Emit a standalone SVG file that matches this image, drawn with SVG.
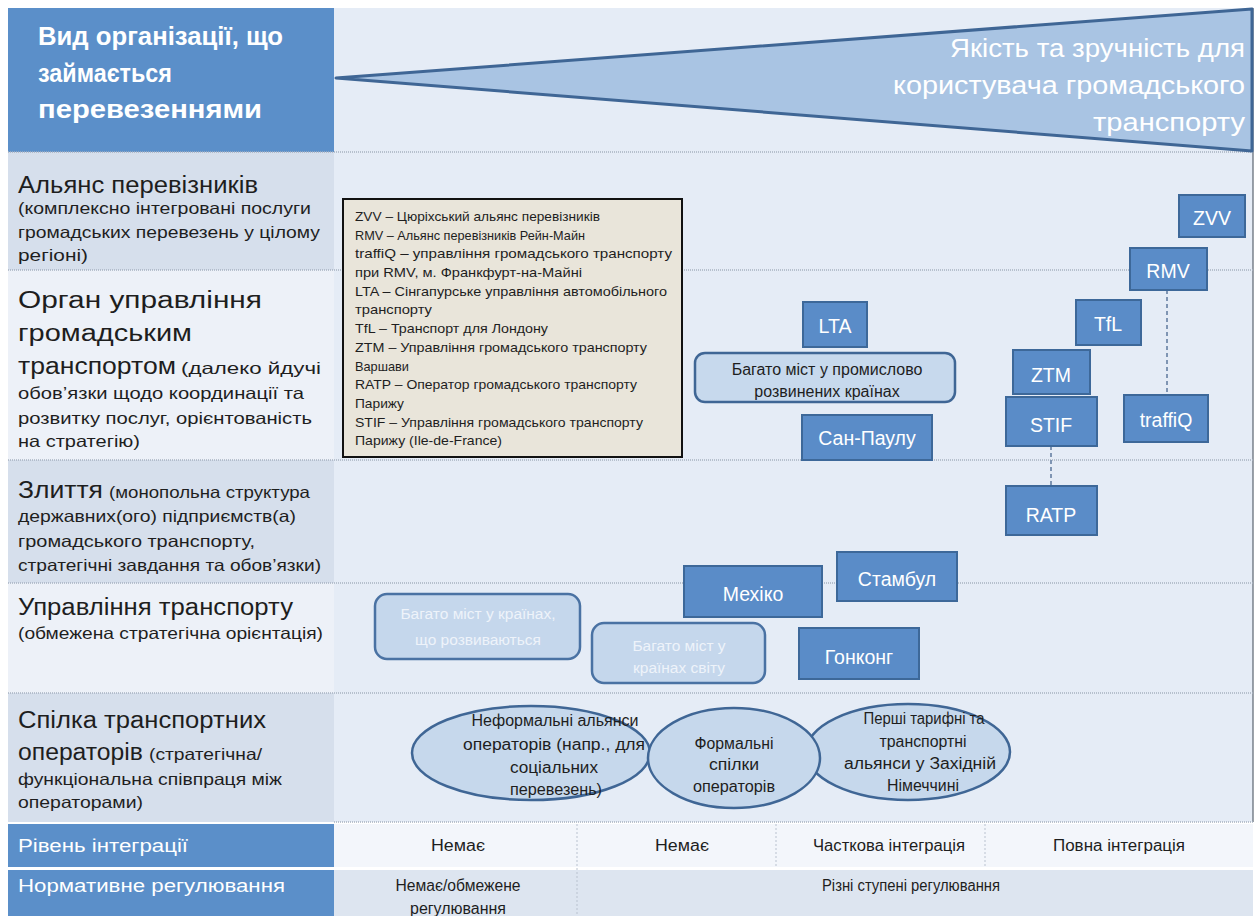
<svg xmlns="http://www.w3.org/2000/svg" width="1259" height="916" viewBox="0 0 1259 916">
<style>
text{font-family:"Liberation Sans",Arial,sans-serif;}
.hdr{fill:#fff;font-weight:bold;font-size:25px;}
.tri{fill:#fff;font-size:26px;text-anchor:end;}
.big{fill:#1e1e1e;font-size:23.5px;}
.sm{fill:#1e1e1e;font-size:16.5px;}
.leg{fill:#1e1e1e;font-size:13px;}
.wt{fill:#fff;font-size:17.5px;}
.cell{fill:#1e1e1e;font-size:16px;text-anchor:middle;}
.sep{stroke:#a7b1c0;stroke-width:1.5;stroke-dasharray:1 1;fill:none;}
.vsep{stroke:#b9c2cf;stroke-width:1;stroke-dasharray:2 2;fill:none;}
.box rect{fill:#5a8cc8;stroke:#3d6899;stroke-width:2;}
.box text{fill:#fff;font-size:19.5px;text-anchor:middle;}
.soft rect{fill:#c7d9ed;stroke:#3f6695;stroke-width:2.5;}
.soft text{fill:#1e1e1e;font-size:16px;text-anchor:middle;}
.pale rect{fill:#c5d7ec;stroke:#4a72a3;stroke-width:2.5;}
.pale text{fill:#eef3fa;font-size:15.5px;text-anchor:middle;}
.ell ellipse{fill:#c6d8ec;stroke:#3f6695;stroke-width:2.5;}
.ell text{fill:#1e1e1e;font-size:16px;text-anchor:middle;}
.dash{stroke:#7f95b3;stroke-width:2;stroke-dasharray:4 3;fill:none;}
</style>
<rect width="1259" height="916" fill="#ffffff"/>
<rect x="334" y="8" width="919" height="814" fill="#e5ecf6"/>
<rect x="8" y="8" width="326" height="144" fill="#5b8fc9"/>
<rect x="8" y="152" width="326" height="118" fill="#d6dfec"/>
<rect x="8" y="270" width="326" height="190" fill="#edf1f8"/>
<rect x="8" y="460" width="326" height="123" fill="#d6dfec"/>
<rect x="8" y="583" width="326" height="110" fill="#edf1f8"/>
<rect x="8" y="693" width="326" height="129" fill="#d6dfec"/>
<rect x="8" y="824" width="326" height="43" fill="#5b8fc9"/>
<rect x="8" y="870" width="326" height="46" fill="#5b8fc9"/>
<rect x="334" y="824" width="919" height="43" fill="#f3f6fb"/>
<rect x="334" y="870" width="919" height="46" fill="#dde5f0"/>
<line x1="1253" y1="8" x2="1253" y2="822" stroke="#5a6470" stroke-width="1.2"/>
<g id="separators">
<line class="sep" x1="8" y1="152" x2="1253" y2="152"/>
<line class="sep" x1="8" y1="270" x2="1253" y2="270"/>
<line class="sep" x1="8" y1="460" x2="1253" y2="460"/>
<line class="sep" x1="8" y1="583" x2="1253" y2="583"/>
<line class="sep" x1="8" y1="693" x2="1253" y2="693"/>
<line class="sep" x1="334" y1="822" x2="1253" y2="822"/>
<line class="vsep" x1="577" y1="824" x2="577" y2="916"/>
<line class="vsep" x1="776" y1="824" x2="776" y2="867"/>
<line class="vsep" x1="985" y1="824" x2="985" y2="867"/>
</g>
<g id="header">
<text class="hdr" x="38" y="45" textLength="245" lengthAdjust="spacingAndGlyphs">Вид організації, що</text>
<text class="hdr" x="38" y="82" textLength="134" lengthAdjust="spacingAndGlyphs">займається</text>
<text class="hdr" x="38" y="118" textLength="224" lengthAdjust="spacingAndGlyphs">перевезеннями</text>
</g>
<g id="triangle">
<polygon points="336,78 1252,9 1252,151" fill="#a9c4e3" stroke="#3f6695" stroke-width="3" stroke-linejoin="round"/>
<text class="tri" x="1245" y="57" textLength="295" lengthAdjust="spacingAndGlyphs">Якість та зручність для</text>
<text class="tri" x="1245" y="94" textLength="352" lengthAdjust="spacingAndGlyphs">користувача громадського</text>
<text class="tri" x="1245" y="131" textLength="152" lengthAdjust="spacingAndGlyphs">транспорту</text>
</g>
<g id="row-alliance">
<text class="big" x="18" y="193" textLength="240" lengthAdjust="spacingAndGlyphs">Альянс перевізників</text>
<text class="sm" x="18" y="214" textLength="293" lengthAdjust="spacingAndGlyphs">(комплексно інтегровані послуги</text>
<text class="sm" x="18" y="238" textLength="302" lengthAdjust="spacingAndGlyphs">громадських перевезень у цілому</text>
<text class="sm" x="18" y="261" textLength="70" lengthAdjust="spacingAndGlyphs">регіоні)</text>
</g>
<g id="row-authority">
<text class="big" x="18" y="308" textLength="244" lengthAdjust="spacingAndGlyphs">Орган управління</text>
<text class="big" x="18" y="341" textLength="174" lengthAdjust="spacingAndGlyphs">громадським</text>
<text class="big" x="18" y="374" textLength="158" lengthAdjust="spacingAndGlyphs">транспортом</text>
<text class="sm" x="181" y="374" textLength="140" lengthAdjust="spacingAndGlyphs">(далеко йдучі</text>
<text class="sm" x="18" y="399" textLength="286" lengthAdjust="spacingAndGlyphs">обов’язки щодо координації та</text>
<text class="sm" x="18" y="424" textLength="294" lengthAdjust="spacingAndGlyphs">розвитку послуг, орієнтованість</text>
<text class="sm" x="18" y="447" textLength="122" lengthAdjust="spacingAndGlyphs">на стратегію)</text>
</g>
<g id="row-merger">
<text class="big" x="18" y="498" textLength="85" lengthAdjust="spacingAndGlyphs">Злиття</text>
<text class="sm" x="109" y="498" textLength="201" lengthAdjust="spacingAndGlyphs">(монопольна структура</text>
<text class="sm" x="18" y="522" textLength="278" lengthAdjust="spacingAndGlyphs">державних(ого) підприємств(а)</text>
<text class="sm" x="18" y="547" textLength="237" lengthAdjust="spacingAndGlyphs">громадського транспорту,</text>
<text class="sm" x="18" y="571" textLength="303" lengthAdjust="spacingAndGlyphs">стратегічні завдання та обов’язки)</text>
</g>
<g id="row-management">
<text class="big" x="18" y="615" textLength="275" lengthAdjust="spacingAndGlyphs">Управління транспорту</text>
<text class="sm" x="18" y="639" textLength="305" lengthAdjust="spacingAndGlyphs">(обмежена стратегічна орієнтація)</text>
</g>
<g id="row-union">
<text class="big" x="18" y="728" textLength="248" lengthAdjust="spacingAndGlyphs">Спілка транспортних</text>
<text class="big" x="18" y="760" textLength="125" lengthAdjust="spacingAndGlyphs">операторів</text>
<text class="sm" x="149" y="760" textLength="113" lengthAdjust="spacingAndGlyphs">(стратегічна/</text>
<text class="sm" x="18" y="785" textLength="264" lengthAdjust="spacingAndGlyphs">функціональна співпраця між</text>
<text class="sm" x="18" y="808" textLength="125" lengthAdjust="spacingAndGlyphs">операторами)</text>
</g>
<g id="row-integration">
<text class="wt" x="18" y="852" textLength="170" lengthAdjust="spacingAndGlyphs">Рівень інтеграції</text>
<text class="cell" x="458" y="851" textLength="54" lengthAdjust="spacingAndGlyphs">Немає</text>
<text class="cell" x="682" y="851" textLength="54" lengthAdjust="spacingAndGlyphs">Немає</text>
<text class="cell" x="889" y="851" textLength="152" lengthAdjust="spacingAndGlyphs">Часткова інтеграція</text>
<text class="cell" x="1119" y="851" textLength="132" lengthAdjust="spacingAndGlyphs">Повна інтеграція</text>
</g>
<g id="row-regulation">
<text class="wt" x="18" y="892" textLength="267" lengthAdjust="spacingAndGlyphs">Нормативне регулювання</text>
<text class="cell" x="458" y="891" textLength="125" lengthAdjust="spacingAndGlyphs">Немає/обмежене</text>
<text class="cell" x="458" y="914" textLength="96" lengthAdjust="spacingAndGlyphs">регулювання</text>
<text class="cell" x="911" y="891" textLength="178" lengthAdjust="spacingAndGlyphs">Різні ступені регулювання</text>
</g>
<g id="legend">
<rect x="343" y="199" width="339" height="258" fill="#e9e5da" stroke="#111" stroke-width="2"/>
<text class="leg" x="355" y="221" textLength="245" lengthAdjust="spacingAndGlyphs">ZVV – Цюріхський альянс перевізників</text>
<text class="leg" x="355" y="240" textLength="230" lengthAdjust="spacingAndGlyphs">RMV – Альянс перевізників Рейн-Майн</text>
<text class="leg" x="355" y="258" textLength="317" lengthAdjust="spacingAndGlyphs">traffiQ – управління громадського транспорту</text>
<text class="leg" x="355" y="277" textLength="227" lengthAdjust="spacingAndGlyphs">при RMV, м. Франкфурт-на-Майні</text>
<text class="leg" x="355" y="296" textLength="312" lengthAdjust="spacingAndGlyphs">LTA – Сінгапурське управління автомобільного</text>
<text class="leg" x="355" y="314" textLength="77" lengthAdjust="spacingAndGlyphs">транспорту</text>
<text class="leg" x="355" y="333" textLength="193" lengthAdjust="spacingAndGlyphs">TfL – Транспорт для Лондону</text>
<text class="leg" x="355" y="352" textLength="292" lengthAdjust="spacingAndGlyphs">ZTM – Управління громадського транспорту</text>
<text class="leg" x="355" y="371" textLength="54" lengthAdjust="spacingAndGlyphs">Варшави</text>
<text class="leg" x="355" y="389" textLength="282" lengthAdjust="spacingAndGlyphs">RATP – Оператор громадського транспорту</text>
<text class="leg" x="355" y="408" textLength="49" lengthAdjust="spacingAndGlyphs">Парижу</text>
<text class="leg" x="355" y="427" textLength="288" lengthAdjust="spacingAndGlyphs">STIF – Управління громадського транспорту</text>
<text class="leg" x="355" y="445" textLength="147" lengthAdjust="spacingAndGlyphs">Парижу (Ile-de-France)</text>
</g>
<g id="connectors">
<line class="dash" x1="1167" y1="290" x2="1167" y2="395"/>
<line class="dash" x1="1051" y1="446" x2="1051" y2="486"/>
</g>
<g id="n-zvv" class="box"><rect x="1179" y="195" width="66" height="42"/><text x="1212" y="225">ZVV</text></g>
<g id="n-rmv" class="box"><rect x="1130" y="248" width="77" height="42"/><text x="1168" y="278">RMV</text></g>
<g id="n-tfl" class="box"><rect x="1076" y="300" width="65" height="45"/><text x="1108" y="331">TfL</text></g>
<g id="n-lta" class="box"><rect x="803" y="302" width="64" height="45"/><text x="835" y="333">LTA</text></g>
<g id="n-developed" class="soft"><rect x="695" y="353" width="260" height="49" rx="10"/><text x="827" y="375">Багато міст у промислово</text><text x="827" y="397">розвинених країнах</text></g>
<g id="n-ztm" class="box"><rect x="1013" y="350" width="77" height="44"/><text x="1051" y="382">ZTM</text></g>
<g id="n-stif" class="box"><rect x="1006" y="397" width="91" height="49"/><text x="1051" y="432">STIF</text></g>
<g id="n-traffiq" class="box"><rect x="1124" y="395" width="84" height="47"/><text x="1166" y="427">traffiQ</text></g>
<g id="n-saopaulo" class="box"><rect x="802" y="415" width="130" height="45"/><text x="867" y="445">Сан-Паулу</text></g>
<g id="n-ratp" class="box"><rect x="1006" y="486" width="91" height="49"/><text x="1051" y="522">RATP</text></g>
<g id="n-mexico" class="box"><rect x="684" y="566" width="138" height="51"/><text x="753" y="601">Мехіко</text></g>
<g id="n-istanbul" class="box"><rect x="837" y="552" width="120" height="49"/><text x="897" y="586">Стамбул</text></g>
<g id="n-hongkong" class="box"><rect x="799" y="628" width="120" height="51"/><text x="859" y="664">Гонконг</text></g>
<g id="n-developing" class="pale"><rect x="375" y="594" width="205" height="65" rx="12"/><text x="478" y="619">Багато міст у країнах,</text><text x="478" y="645">що розвиваються</text></g>
<g id="n-world" class="pale"><rect x="592" y="623" width="173" height="60" rx="12"/><text x="679" y="651">Багато міст у</text><text x="679" y="673">країнах світу</text></g>
<g id="n-informal" class="ell"><ellipse cx="531" cy="753" rx="119" ry="47"/><text x="555" y="726" textLength="167" lengthAdjust="spacingAndGlyphs">Неформальні альянси</text><text x="554" y="750" textLength="182" lengthAdjust="spacingAndGlyphs">операторів (напр., для</text><text x="554" y="773" textLength="88" lengthAdjust="spacingAndGlyphs">соціальних</text><text x="556" y="795" textLength="92" lengthAdjust="spacingAndGlyphs">перевезень)</text></g>
<g id="n-first" class="ell"><ellipse cx="908" cy="752" rx="102" ry="48"/><text x="924" y="724" textLength="121" lengthAdjust="spacingAndGlyphs">Перші тарифні та</text><text x="923" y="747" textLength="87" lengthAdjust="spacingAndGlyphs">транспортні</text><text x="920" y="769" textLength="152" lengthAdjust="spacingAndGlyphs">альянси у Західній</text><text x="923" y="791" textLength="72" lengthAdjust="spacingAndGlyphs">Німеччині</text></g>
<g id="n-formal" class="ell"><ellipse cx="734" cy="758" rx="86" ry="50"/><text x="734" y="749" textLength="79" lengthAdjust="spacingAndGlyphs">Формальні</text><text x="734" y="770" textLength="50" lengthAdjust="spacingAndGlyphs">спілки</text><text x="734" y="792" textLength="82" lengthAdjust="spacingAndGlyphs">операторів</text></g>
</svg>
